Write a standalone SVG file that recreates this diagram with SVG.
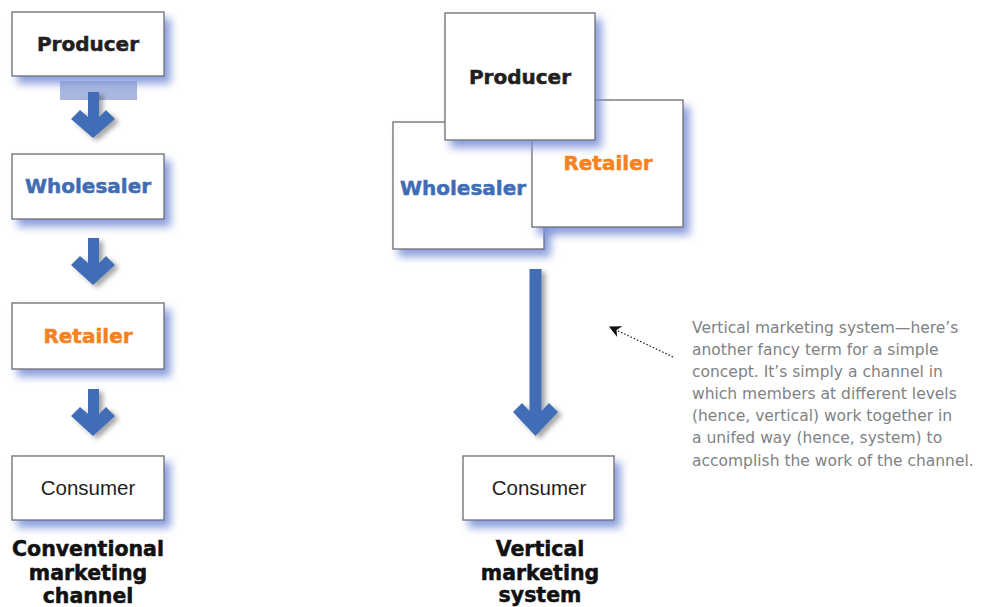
<svg xmlns="http://www.w3.org/2000/svg" width="988" height="607" viewBox="0 0 988 607">
<defs>
<filter id="glow" x="-20%" y="-20%" width="150%" height="150%">
<feGaussianBlur in="SourceAlpha" stdDeviation="4.5" result="b"/>
<feOffset in="b" dx="6" dy="7" result="o"/>
<feFlood flood-color="#7d93d8" flood-opacity="0.9"/>
<feComposite in2="o" operator="in" result="s"/>
<feMerge><feMergeNode in="s"/><feMergeNode in="SourceGraphic"/></feMerge>
</filter>
<filter id="ash" x="-50%" y="-20%" width="200%" height="150%">
<feGaussianBlur in="SourceAlpha" stdDeviation="2.5" result="b"/>
<feOffset in="b" dx="4" dy="3" result="o"/>
<feFlood flood-color="#000" flood-opacity="0.35"/>
<feComposite in2="o" operator="in" result="s"/>
<feMerge><feMergeNode in="s"/><feMergeNode in="SourceGraphic"/></feMerge>
</filter>
<marker id="dh" viewBox="0 0 10 10" refX="9" refY="5" markerWidth="12" markerHeight="12" markerUnits="userSpaceOnUse" orient="auto">
<path d="M0,0 L10,5 L0,10 L3,5 Z" fill="#111"/>
</marker>
</defs>
<style>
.box{fill:#fff;stroke:#6d6e71;stroke-width:1.3}
.bt{font-family:"DejaVu Sans",sans-serif;font-weight:bold;font-size:20px;text-anchor:middle;stroke-width:0.5}
.ct{font-family:"Liberation Sans",Arial,sans-serif;font-size:20.5px;fill:#231f20;text-anchor:middle}
.lab{font-family:"DejaVu Sans",sans-serif;font-weight:bold;font-size:20.5px;fill:#111;stroke:#111;stroke-width:0.5;text-anchor:middle}
.arr{fill:#3f6db5}
.note{font-family:"DejaVu Sans","Liberation Sans",sans-serif;font-size:15.5px;fill:#808285}
</style>
<rect x="60" y="81" width="77" height="19" fill="#a9b7e0"/>
<g id="connectors">
<path class="arr" filter="url(#ash)" d="M88,92 H99 V117 L106,110 L115,119 L93,138 L71,119 L80,110 L88,117 Z"/>
<path class="arr" filter="url(#ash)" d="M88,238 H99 V263 L106,256 L115,265 L93,285 L71,265 L80,256 L88,263 Z"/>
<path class="arr" filter="url(#ash)" d="M88,389 H99 V414 L106,407 L115,416 L93,436 L71,416 L80,407 L88,414 Z"/>
<path class="arr" filter="url(#ash)" d="M529.5,269 H541.5 V411 L549,403 L558,412 L535.5,436 L513,412 L522,403 L529.5,411 Z"/>
<line x1="673" y1="357" x2="610" y2="327" stroke="#111" stroke-width="1.1" stroke-dasharray="1.5,2" marker-end="url(#dh)"/>
</g>
<g id="c-producer"><rect class="box" filter="url(#glow)" x="12" y="12" width="152" height="64"/><text class="bt" x="88" y="51" fill="#231f20" stroke="#231f20">Producer</text></g>
<g id="c-wholesaler"><rect class="box" filter="url(#glow)" x="12" y="154" width="152" height="65"/><text class="bt" x="88" y="193" fill="#3f6db5" stroke="#3f6db5">Wholesaler</text></g>
<g id="c-retailer"><rect class="box" filter="url(#glow)" x="12" y="303" width="152" height="66"/><text class="bt" x="88" y="343" fill="#f58220" stroke="#f58220">Retailer</text></g>
<g id="c-consumer"><rect class="box" filter="url(#glow)" x="12" y="456" width="152" height="64"/><text class="ct" x="88" y="495">Consumer</text></g>
<g id="c-label"><text class="lab" x="88" y="556">Conventional</text><text class="lab" x="88" y="580">marketing</text><text class="lab" x="88" y="603">channel</text></g>
<g id="v-wholesaler"><rect class="box" filter="url(#glow)" x="393" y="122" width="151" height="127"/><text class="bt" x="463" y="195" fill="#3f6db5" stroke="#3f6db5">Wholesaler</text></g>
<g id="v-retailer"><rect class="box" filter="url(#glow)" x="532" y="100" width="151" height="127"/><text class="bt" x="608" y="170" fill="#f58220" stroke="#f58220">Retailer</text></g>
<g id="v-producer"><rect class="box" filter="url(#glow)" x="445" y="13" width="150" height="127"/><text class="bt" x="520" y="84" fill="#231f20" stroke="#231f20">Producer</text></g>
<g id="v-consumer"><rect class="box" filter="url(#glow)" x="463" y="456" width="151" height="64"/><text class="ct" x="539" y="495">Consumer</text></g>
<g id="v-label"><text class="lab" x="540" y="556">Vertical</text><text class="lab" x="540" y="580">marketing</text><text class="lab" x="540" y="602">system</text></g>
<g id="note">
<text class="note" x="692" y="333">Vertical marketing system—here’s</text>
<text class="note" x="692" y="355">another fancy term for a simple</text>
<text class="note" x="692" y="377">concept. It’s simply a channel in</text>
<text class="note" x="692" y="399">which members at different levels</text>
<text class="note" x="692" y="421">(hence, vertical) work together in</text>
<text class="note" x="692" y="443">a unifed way (hence, system) to</text>
<text class="note" x="692" y="466">accomplish the work of the channel.</text>
</g>
</svg>
